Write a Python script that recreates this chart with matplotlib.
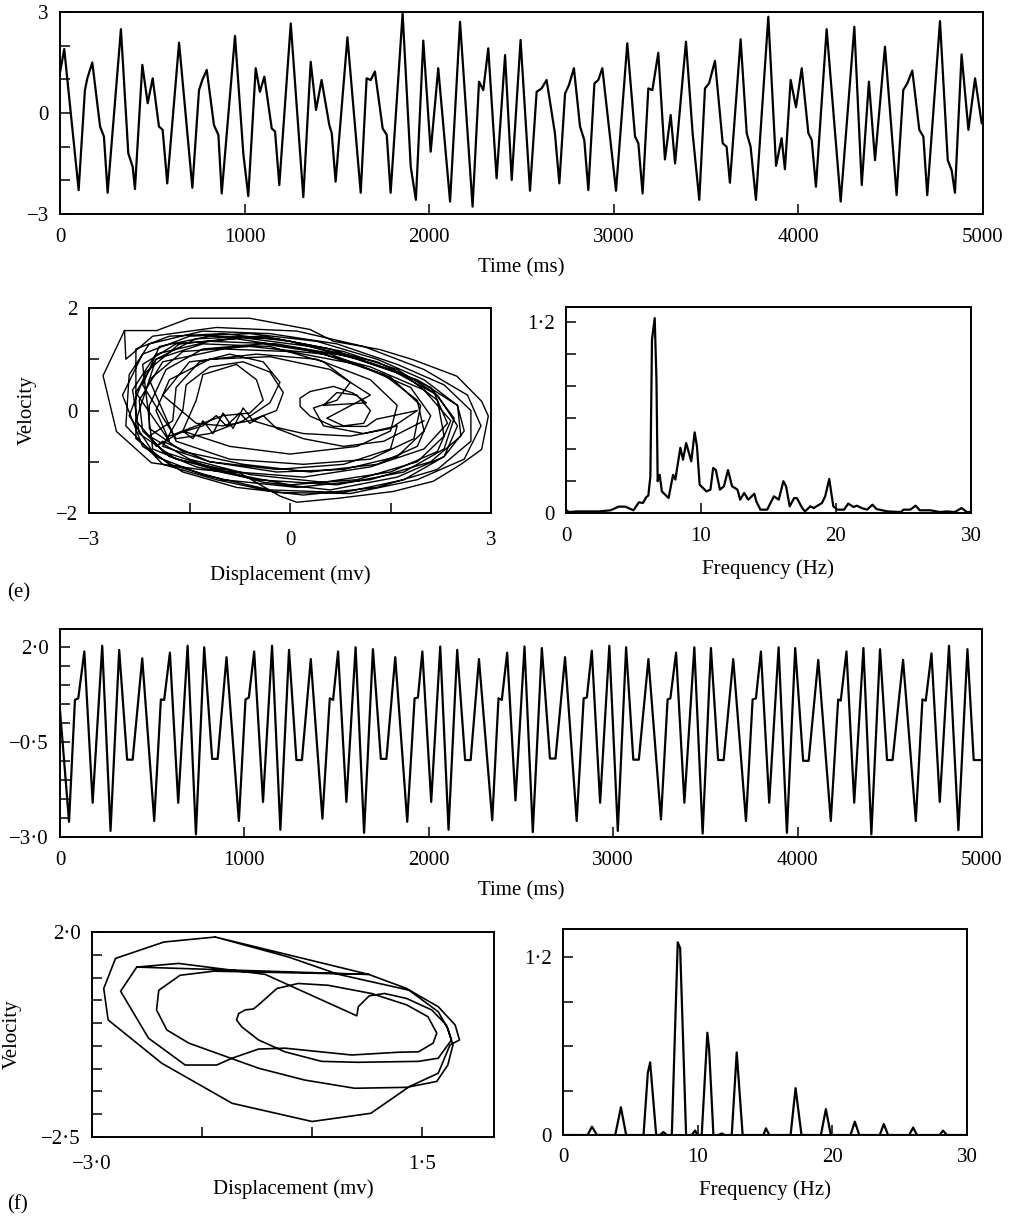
import numpy as np
import matplotlib
matplotlib.use("Agg")
import matplotlib.pyplot as plt

plt.rcParams['font.family'] = ['Liberation Serif', 'DejaVu Serif']
plt.rcParams['font.size'] = 15

# ---------------- data ----------------
# (e) time series: time (ms), amplitude
time_e = [0, 23, 101, 135, 148, 175, 217, 238, 258, 330, 370, 394, 406, 446, 475, 502,
          536, 556, 581, 645, 717, 753, 771, 795, 834, 858, 876, 948, 993, 1020, 1060,
          1083, 1107, 1147, 1165, 1188, 1250, 1318, 1358, 1387, 1417, 1459, 1472, 1493,
          1557, 1629, 1661, 1683, 1706, 1748, 1770, 1791, 1856, 1900, 1928, 1968, 2008,
          2049, 2113, 2167, 2235, 2270, 2293, 2320, 2365, 2411, 2447, 2495, 2546, 2582,
          2609, 2636, 2681, 2705, 2736, 2757, 2784, 2817, 2840, 2862, 2895, 2916, 2938,
          2979, 3012, 3073, 3115, 3133, 3156, 3187, 3209, 3241, 3277, 3308, 3332, 3391,
          3427, 3463, 3494, 3516, 3548, 3590, 3611, 3629, 3687, 3720, 3741, 3770, 3837,
          3879, 3909, 3927, 3958, 3987, 4018, 4054, 4072, 4095, 4153, 4229, 4303, 4343,
          4382, 4415, 4469, 4532, 4568, 4590, 4617, 4655, 4677, 4698, 4767, 4809, 4830,
          4848, 4884, 4921, 4957, 4993]
amp_e = [1.2, 1.9, -2.29, 0.68, 1.03, 1.5, -0.4, -0.7, -2.37, 2.49, -1.2, -1.6, -2.26,
         1.43, 0.29, 1.03, -0.4, -0.5, -2.09, 2.09, -2.22, 0.68, 0.98, 1.28, -0.36, -0.65,
         -2.39, 2.29, -1.2, -2.47, 1.33, 0.63, 1.08, -0.46, -0.55, -2.14, 2.66, -2.5, 1.52,
         0.09, 0.98, -0.36, -0.6, -2.04, 2.25, -2.37, 1.03, 0.98, 1.23, -0.46, -0.65,
         -2.37, 2.96, -1.6, -2.58, 2.15, -1.15, 1.33, -2.63, 2.71, -2.78, 0.93, 0.68,
         1.92, -1.94, 1.72, -1.99, 2.17, -2.31, 0.63, 0.73, 0.98, -0.6, -2.09, 0.58, 0.83,
         1.33, -0.4, -0.8, -2.29, 0.88, 0.98, 1.33, -0.7, -2.31, 2.07, -0.7, -0.9, -2.39,
         0.73, 0.68, 1.79, -1.38, -0.06, -1.5, 2.12, -0.6, -2.58, 0.73, 0.88, 1.55, -0.9,
         -1.0, -2.07, 2.19, -0.6, -1.0, -2.58, 2.86, -1.57, -0.75, -1.67, 0.98, 0.17, 1.33,
         -0.6, -0.8, -2.19, 2.49, -2.63, 2.56, -2.14, 0.93, -1.4, 1.97, -2.44, 0.68, 0.88,
         1.26, -0.5, -0.7, -2.44, 2.73, -1.4, -1.7, -2.37, 1.74, -0.5, 1.03, -0.31]

# (e) phase portrait: displacement / velocity, loop by loop
loop_a = [(-2.47, 1.56), (-1.99, 1.56), (-1.5, 1.8), (-0.6, 1.8), (0.3, 1.58), (0.65, 1.35),
          (1.34, 1.19), (1.84, 0.99), (2.49, 0.67), (2.86, 0.18), (2.96, -0.11), (2.86, -0.76),
          (2.54, -1.06), (2.14, -1.38), (1.54, -1.58), (0.74, -1.71), (0.1, -1.79),
          (-0.15, -1.67), (-0.75, -1.22), (-1.35, -1.15), (-2.07, -1.02), (-2.59, -0.41),
          (-2.79, 0.68), (-2.47, 1.56)]
loop_s = [(-2.45, 1.0), (-2.05, 1.45), (-1.1, 1.62), (0.1, 1.55), (1.1, 1.25), (2.0, 0.8),
          (2.65, 0.3), (2.85, -0.3), (2.6, -0.95), (1.9, -1.35), (0.9, -1.62), (-0.2, -1.6),
          (-1.1, -1.35), (-1.9, -1.05), (-2.45, -0.3)]
loop_k = [(-2.4, 0.7), (-2.1, 1.3), (-1.3, 1.55), (-0.3, 1.5), (0.7, 1.3), (1.6, 0.9),
          (2.3, 0.5), (2.7, 0.0), (2.7, -0.6), (2.2, -1.15), (1.3, -1.5), (0.2, -1.65),
          (-0.8, -1.5), (-1.6, -1.2), (-2.2, -0.7)]
loop_o = [(-2.5, 0.3), (-2.2, 1.1), (-1.5, 1.45), (-0.6, 1.5), (0.4, 1.35), (1.3, 1.0),
          (2.0, 0.6), (2.5, 0.1), (2.55, -0.5), (2.1, -1.0), (1.2, -1.35), (0.1, -1.5),
          (-1.0, -1.35), (-1.8, -1.05), (-2.3, -0.55)]
loop_b = [(-2.3, 1.2), (-1.8, 1.45), (-1.0, 1.5), (0.0, 1.35), (1.0, 1.0), (1.9, 0.6),
          (2.5, 0.1), (2.6, -0.4), (2.3, -0.9), (1.6, -1.3), (0.6, -1.55), (-0.4, -1.4),
          (-1.2, -1.1), (-1.9, -0.8), (-2.3, -0.2)]
loop_l = [(-2.0, 1.0), (-1.4, 1.4), (-0.4, 1.45), (0.6, 1.2), (1.5, 0.8), (2.2, 0.3),
          (2.5, -0.3), (2.3, -0.9), (1.7, -1.35), (0.8, -1.6), (-0.3, -1.55), (-1.3, -1.25),
          (-2.0, -0.9), (-2.4, -0.1)]
loop_t = [(-2.15, 0.75), (-1.65, 1.3), (-0.7, 1.42), (0.3, 1.25), (1.3, 0.95), (2.1, 0.45),
          (2.45, -0.15), (2.3, -0.75), (1.7, -1.2), (0.7, -1.45), (-0.5, -1.35), (-1.4, -1.1),
          (-2.05, -0.75)]
loop_c = [(-2.2, 0.9), (-1.7, 1.3), (-0.8, 1.4), (0.2, 1.2), (1.2, 0.85), (2.0, 0.4),
          (2.4, -0.2), (2.2, -0.8), (1.5, -1.2), (0.5, -1.4), (-0.6, -1.25), (-1.5, -0.95),
          (-2.1, -0.5)]
loop_v = [(-1.75, -0.2), (-1.7, 0.45), (-1.35, 0.95), (-0.9, 1.1), (-0.4, 0.95),
          (-0.15, 0.55), (-0.3, 0.15), (-0.7, -0.2), (-1.2, -0.45), (-1.7, -0.55)]
loop_p = [(-2.2, 0.5), (-1.95, 1.25), (-1.2, 1.45), (-0.2, 1.4), (0.8, 1.15), (1.6, 0.8),
          (2.15, 0.35), (2.35, -0.25), (2.0, -0.75), (1.2, -1.1), (0.2, -1.3), (-0.8, -1.2),
          (-1.7, -0.95), (-2.25, -0.45)]
loop_d = [(-2.35, 0.4), (-2.0, 1.1), (-1.2, 1.35), (-0.2, 1.3), (0.9, 1.05), (1.7, 0.7),
          (2.2, 0.2), (2.3, -0.5), (1.9, -1.0), (1.0, -1.35), (0.0, -1.45), (-1.0, -1.2),
          (-1.8, -0.9), (-2.2, -0.4)]
loop_h = [(-2.25, 0.2), (-1.9, 0.95), (-1.0, 1.2), (0.0, 1.15), (1.0, 0.9), (1.8, 0.45),
          (2.1, -0.1), (1.9, -0.7), (1.3, -1.05), (0.3, -1.2), (-0.7, -1.05), (-1.6, -0.8),
          (-2.1, -0.35)]
loop_q = [(-2.1, 0.1), (-1.85, 0.8), (-1.3, 1.2), (-0.4, 1.3), (0.6, 1.1), (1.5, 0.65),
          (1.95, 0.1), (1.85, -0.55), (1.2, -0.95), (0.2, -1.05), (-0.9, -0.95), (-1.7, -0.6)]
loop_e = [(-2.1, 0.6), (-1.6, 1.15), (-0.6, 1.25), (0.5, 1.1), (1.4, 0.7), (1.9, 0.2),
          (2.0, -0.4), (1.6, -0.9), (0.8, -1.15), (-0.2, -1.2), (-1.2, -1.0), (-1.9, -0.6)]
loop_w = [(-2.0, -0.7), (-1.6, -0.4), (-1.45, -0.55), (-1.3, -0.2), (-1.15, -0.45),
          (-1.0, -0.05), (-0.85, -0.35), (-0.7, 0.05), (-0.55, -0.2), (-0.3, -0.3),
          (0.2, -0.45), (0.9, -0.5), (1.5, -0.35), (1.9, 0.0)]
loop_f = [(1.29, -0.17), (1.14, -0.31), (0.65, -0.31), (0.3, -0.11), (0.15, 0.08),
          (0.15, 0.24), (0.3, 0.37), (0.65, 0.47), (0.94, 0.34), (1.14, 0.15)]
loop_m = [(0.5, 0.1), (0.7, 0.35), (1.0, 0.3), (1.2, 0.0), (1.1, -0.25), (0.8, -0.3),
          (0.55, -0.15)]
loop_r = [(1.2, 0.3), (0.6, 0.8), (-0.3, 1.05), (-1.2, 1.0), (-1.8, 0.6), (-2.0, 0.0),
          (-1.8, -0.6)]
loop_u = [(-2.3, 0.35), (-2.0, 1.0), (-1.3, 1.3), (-0.3, 1.25), (0.5, 0.95), (0.9, 0.55),
          (0.7, 0.2), (0.35, 0.05), (0.5, -0.3), (1.1, -0.45), (1.6, -0.3), (1.5, -0.75),
          (0.8, -1.05), (-0.2, -1.15), (-1.2, -1.0), (-1.9, -0.7)]
loop_g = [(-1.6, 0.0), (-1.55, 0.5), (-1.2, 0.85), (-0.7, 0.95), (-0.3, 0.75), (-0.1, 0.35),
          (-0.2, 0.0), (-0.6, -0.2), (-1.0, -0.3), (-1.4, -0.25)]
loop_i = [(-1.9, 0.3), (-1.5, 0.95), (-0.5, 1.1), (0.4, 1.0), (1.2, 0.6), (1.6, 0.1),
          (1.5, -0.4), (1.0, -0.7), (0.0, -0.85), (-0.9, -0.7), (-1.6, -0.4)]
loop_n = [(-1.4, 0.2), (-1.3, 0.7), (-0.8, 0.9), (-0.5, 0.6), (-0.4, 0.2), (-0.6, -0.05),
          (-1.0, -0.1)]
loop_j = [(-1.8, -0.5), (-1.3, -0.3), (-1.1, -0.1), (-0.95, -0.3), (-0.75, -0.05),
          (-0.6, -0.25), (-0.4, -0.1), (-0.2, -0.35), (0.2, -0.55), (0.8, -0.7), (1.4, -0.6),
          (2.0, -0.2)]
phase_e_loops = [loop_a, loop_s, loop_k, loop_o, loop_b, loop_l, loop_t, loop_c, loop_v,
                 loop_p, loop_d, loop_h, loop_q, loop_e, loop_w, loop_f, loop_m, loop_r,
                 loop_u, loop_g, loop_i, loop_n, loop_j]

# (e) spectrum
freq_e = [0, 0.2, 0.8, 2.5, 3.3, 3.9, 4.4, 5.0, 5.4, 5.7, 5.95, 6.1, 6.25, 6.37, 6.57, 6.7,
          6.79, 6.94, 7.1, 7.6, 7.93, 8.1, 8.47, 8.67, 8.9, 9.28, 9.53, 9.7, 9.9, 10.4, 10.7,
          10.9, 11.1, 11.4, 11.7, 12.0, 12.3, 12.7, 12.9, 13.2, 13.5, 13.95, 14.1, 14.4,
          14.9, 15.4, 15.76, 16.1, 16.3, 16.57, 16.9, 17.1, 17.5, 17.7, 18.1, 18.35, 18.96,
          19.2, 19.5, 19.8, 20.1, 20.6, 20.9, 21.3, 21.55, 21.9, 22.3, 22.7, 23.0, 23.8,
          24.8, 25.0, 25.5, 25.9, 26.2, 27.0, 27.7, 28.2, 28.8, 29.3, 29.7, 30.0]
power_e = [0.02, 0.006, 0.01, 0.01, 0.017, 0.04, 0.04, 0.017, 0.067, 0.063, 0.1, 0.11,
           0.23, 1.09, 1.225, 0.84, 0.2, 0.24, 0.136, 0.094, 0.24, 0.21, 0.41, 0.335, 0.44,
           0.325, 0.507, 0.42, 0.178, 0.136, 0.147, 0.283, 0.27, 0.147, 0.168, 0.27, 0.168,
           0.147, 0.084, 0.126, 0.084, 0.121, 0.073, 0.021, 0.021, 0.105, 0.084, 0.2, 0.168,
           0.042, 0.094, 0.094, 0.031, 0.01, 0.042, 0.031, 0.063, 0.105, 0.214, 0.042,
           0.021, 0.021, 0.059, 0.038, 0.046, 0.031, 0.021, 0.052, 0.025, 0.01, 0.006,
           0.021, 0.021, 0.046, 0.017, 0.017, 0.006, 0.01, 0.006, 0.031, 0.006, 0.006]

# (f) time series (flat-bottomed troughs near -1 read as two points each)
time_f = [0, 49, 81, 99, 132, 177, 229, 274, 321, 364, 394, 446, 511, 547, 565, 596, 641,
          692, 737, 782, 825, 855, 903, 970, 1006, 1024, 1053, 1101, 1150, 1195, 1242,
          1282, 1312, 1360, 1423, 1463, 1481, 1508, 1553, 1603, 1649, 1697, 1740, 1770,
          1818, 1883, 1923, 1941, 1965, 2013, 2062, 2107, 2154, 2197, 2227, 2272, 2344,
          2378, 2396, 2425, 2470, 2519, 2564, 2613, 2657, 2687, 2739, 2802, 2840, 2857,
          2884, 2929, 2979, 3025, 3070, 3109, 3139, 3191, 3259, 3295, 3310, 3341, 3386,
          3440, 3485, 3530, 3569, 3599, 3651, 3720, 3756, 3774, 3801, 3846, 3897, 3942,
          3987, 4030, 4060, 4112, 4180, 4220, 4234, 4265, 4307, 4357, 4400, 4447, 4485,
          4515, 4572, 4641, 4677, 4695, 4726, 4771, 4821, 4872, 4921, 4955, 4993]
amp_f = [0.33, -2.6, 0.6, 0.64, 1.87, -2.1, 2.02, -2.84, 1.91, -0.97, -0.97, 1.69, -2.58,
         0.61, 0.6, 1.84, -2.1, 2.02, -2.93, 1.98, -0.95, -0.95, 1.72, -2.58, 0.61, 0.66,
         1.87, -2.08, 2.02, -2.81, 1.91, -0.98, -0.98, 1.67, -2.52, 0.64, 0.6, 1.87, -2.08,
         1.98, -2.89, 1.93, -0.95, -0.95, 1.72, -2.6, 0.64, 0.66, 1.87, -2.08, 2.0, -2.81,
         1.91, -0.98, -0.98, 1.67, -2.56, 0.64, 0.6, 1.84, -2.04, 2.0, -2.87, 1.96, -0.94,
         -0.94, 1.72, -2.58, 0.64, 0.66, 1.89, -2.1, 2.02, -2.84, 1.98, -0.97, -0.97, 1.67,
         -2.54, 0.61, 0.64, 1.84, -2.1, 1.98, -2.91, 1.96, -0.98, -0.98, 1.67, -2.58, 0.61,
         0.64, 1.87, -2.1, 1.98, -2.89, 1.96, -1.0, -1.0, 1.65, -2.58, 0.61, 0.58, 1.87,
         -2.1, 1.96, -2.93, 1.93, -0.98, -0.98, 1.65, -2.58, 0.61, 0.58, 1.82, -2.08, 2.02,
         -2.82, 1.93, -0.98, -0.98]

# (f) phase portrait
disp_f = [-1.32, -2.02, -2.68, -2.84, -2.78, -2.05, -1.09, 0.0, 0.8, 1.33, 1.72, 1.88, 2.01,
          1.95, 1.72, 1.33, 0.36, -0.32, -1.32,
          0.77, -1.34, -1.8, -2.09, -2.12, -1.98, -1.68, -0.73, -0.1, 0.58, 1.29, 1.7, 1.85,
          1.92, 1.85, 1.72, 1.29, 0.77,
          -2.39, -1.82, -0.64, 0.61, 0.63, 0.78, 0.99, 1.29, 1.63, 1.83, 1.9, 1.72, 1.45,
          0.63, 0.13, -0.37, -0.73, -0.96, -1.03, -1.0, -0.91, -0.8, -0.73, -0.48, -0.19,
          0.22, 0.81, 1.29, 1.58, 1.7, 1.65, 1.45, 1.17, 0.54, -0.37, -0.73, -1.09, -1.3,
          -1.73, -2.23, -2.61, -2.39]
vel_f = [1.89, 1.78, 1.42, 0.76, 0.07, -0.88, -1.76, -2.16, -1.98, -1.39, -1.1, -0.48,
         -0.37, -0.04, 0.36, 0.72, 1.07, 1.45, 1.89,
         1.07, 1.14, 1.05, 0.72, 0.29, -0.15, -0.44, -0.99, -1.25, -1.43, -1.41, -1.28,
         -0.92, -0.48, -0.12, 0.25, 0.76, 1.07,
         1.23, 1.31, 1.07, 0.16, 0.36, 0.6, 0.65, 0.54, 0.29, -0.04, -0.37, -0.77, -0.84,
         -0.86, -0.84, -0.63, -0.37, -0.08, 0.07, 0.21, 0.29, 0.31, 0.4, 0.76, 0.87, 0.83,
         0.65, 0.4, 0.14, -0.22, -0.44, -0.63, -0.64, -0.7, -0.55, -0.57, -0.77, -0.92,
         -0.92, -0.33, 0.7, 1.23]

# (f) spectrum
freq_f = [0, 1.83, 2.15, 2.52, 3.88, 4.3, 4.69, 5.98, 6.3, 6.47, 6.92, 7.2, 7.46, 7.7,
          8.08, 8.52, 8.7, 9.14, 9.56, 9.81, 9.98, 10.3, 10.72, 10.85, 11.17, 11.54, 11.79,
          12.03, 12.53, 12.9, 13.34, 14.88, 15.07, 15.32, 16.9, 17.27, 17.71, 19.15, 19.52,
          19.89, 21.35, 21.67, 22.0, 23.52, 23.82, 24.14, 25.7, 26.0, 26.29, 27.97, 28.22,
          28.51, 30.0]
power_f = [0, 0, 0.056, 0, 0, 0.187, 0, 0, 0.42, 0.49, 0, 0, 0.02, 0, 0, 1.3, 1.26, 0, 0,
           0.03, 0, 0, 0.69, 0.58, 0, 0, 0.01, 0, 0, 0.557, 0, 0, 0.045, 0, 0, 0.316, 0, 0,
           0.174, 0, 0, 0.09, 0, 0, 0.074, 0, 0, 0.05, 0, 0, 0.03, 0, 0]

# ---------------- drawing ----------------
W, H = 1012, 1216
fig = plt.figure(figsize=(W / 100, H / 100), dpi=100)


def box(left, top, right, bottom):
    return [left / W, 1 - bottom / H, (right - left) / W, (bottom - top) / H]


def style(ax, xpad=8):
    for s in ax.spines.values():
        s.set_linewidth(1.4)
    ax.tick_params(direction='in', length=7, width=1.1, pad=8, labelsize=15,
                   top=False, right=False)
    ax.tick_params(axis='x', pad=xpad)


M = '\u2212'
line_kw = dict(color='black', lw=1.6, solid_joinstyle='round', solid_capstyle='round')

# (e) time series
ax1 = fig.add_axes(box(60, 12, 983, 214))
ax1.plot(time_e, amp_e, **line_kw)
ax1.set_xlim(0, 5000)
ax1.set_ylim(-3, 3)
ax1.set_xticks([0, 1000, 2000, 3000, 4000, 5000])
ax1.set_yticks([-3, -2, -1, 0, 1, 2, 3])
ax1.set_yticklabels([M + '3', '', '', '0', '', '', '3'])
ax1.set_xlabel('Time (ms)', fontsize=15, labelpad=8.5)
style(ax1, xpad=10)

# (e) phase
ax2 = fig.add_axes(box(89, 308, 491, 513))
xs, ys = [], []
for lp in phase_e_loops:
    for p in lp:
        xs.append(p[0])
        ys.append(p[1])
ax2.plot(xs, ys, color='black', lw=1.0, solid_joinstyle='round')
ax2.set_xlim(-3, 3)
ax2.set_ylim(-2, 2)
ax2.set_xticks([-3, -1.5, 0, 1.5, 3])
ax2.set_xticklabels([M + '3', '', '0', '', '3'])
ax2.set_yticks([-2, -1, 0, 1, 2])
ax2.set_yticklabels([M + '2', '', '0', '', '2'])
ax2.set_xlabel('Displacement (mv)', fontsize=15, labelpad=11)
ax2.set_ylabel('Velocity', fontsize=15, labelpad=14)
style(ax2, xpad=13)

# (e) spectrum
ax3 = fig.add_axes(box(566, 307, 971, 513))
ax3.plot(freq_e, power_e, **line_kw)
ax3.set_xlim(0, 30)
ax3.set_ylim(0, 1.295)
ax3.set_xticks([0, 10, 20, 30])
ax3.set_yticks([0, 0.2, 0.4, 0.6, 0.8, 1.0, 1.2])
ax3.set_yticklabels(['0', '', '', '', '', '', '1\u00b72'])
ax3.set_xlabel('Frequency (Hz)', fontsize=15, labelpad=9.5)
style(ax3, xpad=10)

fig.text(7 / W, 1 - 593 / H, '(e)', fontsize=15, va='center')

# (f) time series
ax4 = fig.add_axes(box(60, 629, 982, 837))
ax4.plot(time_f, amp_f, **line_kw)
ax4.set_xlim(0, 5000)
ax4.set_ylim(-3.0, 2.46)
ax4.set_xticks([0, 1000, 2000, 3000, 4000, 5000])
yt = [-3.0, -2.5, -2.0, -1.5, -1.0, -0.5, 0.0, 0.5, 1.0, 1.5, 2.0]
ax4.set_yticks(yt)
ax4.set_yticklabels([M + '3\u00b70', '', '', '', '', M + '0\u00b75', '', '', '', '',
                     '2\u00b70'])
ax4.set_xlabel('Time (ms)', fontsize=15, labelpad=8)
style(ax4, xpad=10)

# (f) phase
ax5 = fig.add_axes(box(92, 932, 494, 1137))
ax5.plot(disp_f, vel_f, color='black', lw=1.2, solid_joinstyle='round')
ax5.set_xlim(-3.0, 2.48)
ax5.set_ylim(-2.5, 2.0)
ax5.set_xticks([-3.0, -1.5, 0.0, 1.5])
ax5.set_xticklabels([M + '3\u00b70', '', '', '1\u00b75'])
ax5.set_yticks([-2.5, -2.0, -1.5, -1.0, -0.5, 0.0, 0.5, 1.0, 1.5, 2.0])
ax5.set_yticklabels([M + '2\u00b75', '', '', '', '', '', '', '', '', '2\u00b70'])
ax5.set_xlabel('Displacement (mv)', fontsize=15, labelpad=3.5)
ax5.set_ylabel('Velocity', fontsize=15, labelpad=14)
style(ax5, xpad=13)

# (f) spectrum
ax6 = fig.add_axes(box(563, 929, 967, 1135))
ax6.plot(freq_f, power_f, **line_kw)
ax6.set_xlim(0, 30)
ax6.set_ylim(0, 1.39)
ax6.set_xticks([0, 10, 20, 30])
ax6.set_yticks([0, 0.3, 0.6, 0.9, 1.2])
ax6.set_yticklabels(['0', '', '', '', '1\u00b72'])
ax6.set_xlabel('Frequency (Hz)', fontsize=15, labelpad=9.5)
style(ax6, xpad=9.5)

fig.text(7 / W, 1 - 1205 / H, '(f)', fontsize=15, va='center')

fig.savefig('out.png', dpi=100)
